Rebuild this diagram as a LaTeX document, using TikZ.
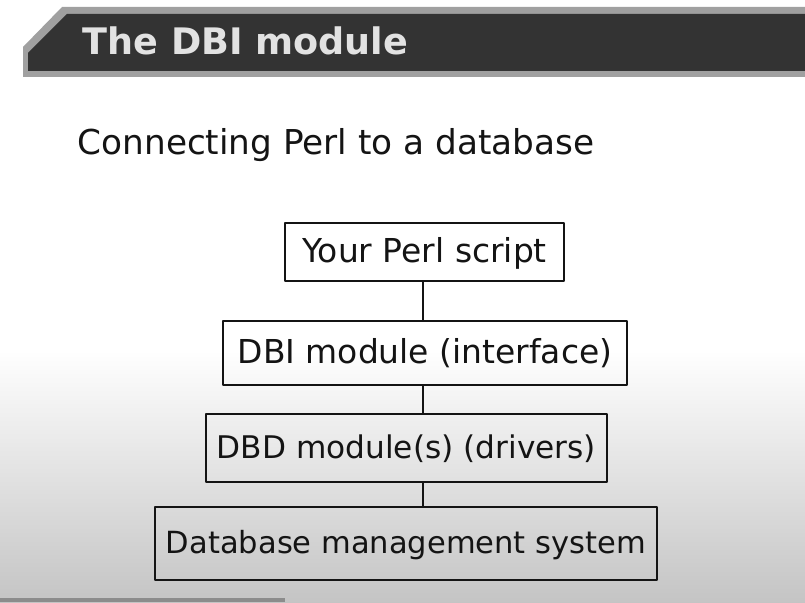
\documentclass[tikz,border=0pt]{standalone}
\usepackage{fontspec}
\setmainfont{DejaVu Sans}
\usepackage{tikz}
\usetikzlibrary{arrows.meta,calc,positioning}
\definecolor{slidedark}{RGB}{51,51,51}
\definecolor{slideedge}{RGB}{160,160,160}
\definecolor{slidetitle}{RGB}{226,226,226}
\definecolor{slideink}{RGB}{20,20,20}
\tikzset{
  layerbox/.style={draw=slideink,line width=1.1pt,fill=none,
    text=slideink,font=\fontsize{24.4}{29}\selectfont,
    text height=19pt,text depth=4pt,inner sep=0pt},
  layerlink/.style={draw=slideink,line width=1pt}
}

\begin{document}
\begin{tikzpicture}[>=Stealth,x=.75pt,y=-.75pt,line cap=round,line join=round]
% pixel grid 805x602, y runs down
\useasboundingbox (0,0) rectangle (805,602);
\fill[white] (0,0) rectangle (805,602);
\shade[top color=white,bottom color=black!23] (0,350) rectangle (805,602);
% title bar with the cut corner
\fill[slideedge] (23,77)--(23,47)--(62,7)--(805,7)--(805,77)--cycle;
\fill[slidedark] (28,71)--(28,53)--(67,14)--(805,14)--(805,71)--cycle;
\fill[black!45] (0,598) rectangle (285,602);
\node[anchor=base west,text=slidetitle,font=\fontsize{27.4}{32}\selectfont\bfseries]
  (title) at (78,55) {The DBI module};
\node[anchor=base west,text=slideink,font=\fontsize{25.7}{31}\selectfont]
  (subtitle) at (73,155) {Connecting Perl to a database};
% the four layers
\node[layerbox,minimum width=209.25pt,minimum height=43.5pt,font=\fontsize{24.7}{29}\selectfont] (script) at (424.5,252) {Your Perl script};
\node[layerbox,minimum width=303pt,minimum height=48pt,font=\fontsize{24.7}{29}\selectfont] (dbi) at (425,353) {DBI module (interface)};
\node[layerbox,minimum width=300.75pt,minimum height=51pt,font=\fontsize{23.4}{29}\selectfont] (dbd) at (406.5,448) {DBD module(s) (drivers)};
\node[layerbox,minimum width=376.5pt,minimum height=54.75pt,font=\fontsize{22.9}{29}\selectfont] (dbms) at (406,543.5) {Database management system};
\coordinate (spine) at (423,0);
\draw[layerlink] (script.south -| spine) -- (dbi.north -| spine);
\draw[layerlink] (dbi.south -| spine) -- (dbd.north -| spine);
\draw[layerlink] (dbd.south -| spine) -- (dbms.north -| spine);
\end{tikzpicture}
\end{document}
